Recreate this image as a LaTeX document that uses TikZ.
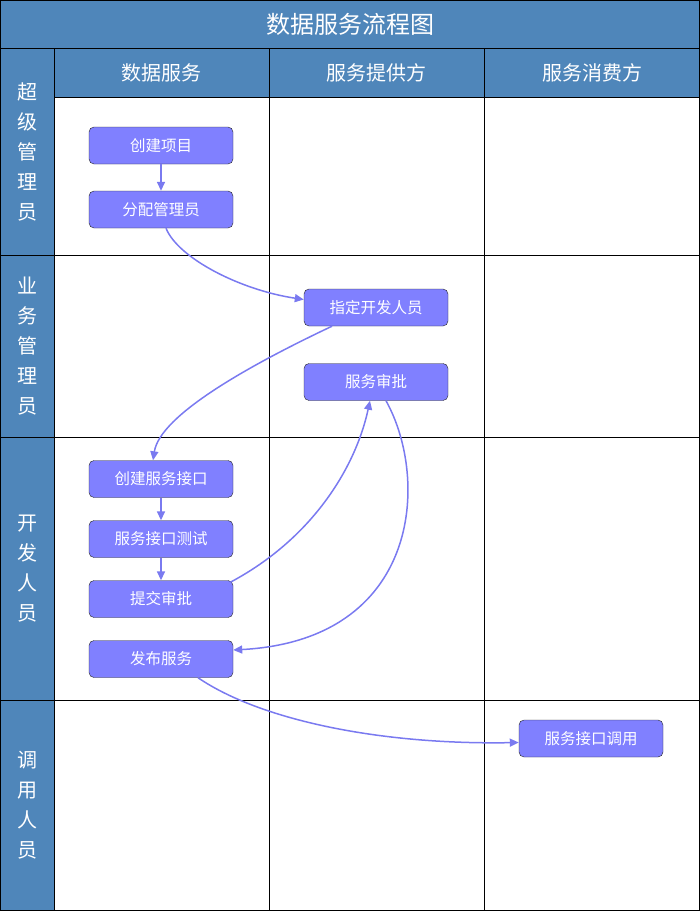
\documentclass[tikz,border=0pt]{standalone}
\usepackage{fontspec}
\setmainfont{Noto Sans CJK SC}
\usepackage{xcolor,tikz}
\usetikzlibrary{arrows.meta,positioning}
\definecolor{laneblue}{RGB}{79,134,186}
\definecolor{stepfill}{RGB}{128,128,255}
\definecolor{flowline}{RGB}{122,122,240}
\tikzset{
  stepbox/.style={draw=black!85,fill=stepfill,rounded corners=5pt,minimum width=144pt,minimum height=37pt,
    inner sep=0pt,text=white,font=\fontsize{15.5}{18}\selectfont},
  flow/.style={draw=flowline,line width=1.5pt,-{Triangle[length=9pt,width=8pt]}},
  lanelabel/.style={text=white,align=center,font=\fontsize{20}{30}\selectfont},
  headlabel/.style={text=white,font=\fontsize{20}{24}\selectfont}
}
\begin{document}
\begin{tikzpicture}[x=1pt,y=-1pt]
\useasboundingbox (0,0) rectangle (700,911);
\fill[laneblue] (0,0) rectangle (700,97); \fill[laneblue] (0,0) rectangle (54,911);
\draw[line width=0.8pt] (0.5,0.5) rectangle (699.5,910.5);
\draw[line width=0.8pt] (0,48)--(700,48); \draw[line width=0.8pt] (54,97)--(700,97);
\foreach \y in {255,437,700}{\draw[line width=0.8pt] (0,\y)--(700,\y);}
\foreach \x in {54,269,484}{\draw[line width=0.8pt] (\x,48)--(\x,911);}
\node[text=white,font=\fontsize{24}{28}\selectfont] (title) at (350,24){数据服务流程图};
\node[headlabel] (col1) at (161.5,73){数据服务};
\node[headlabel] (col2) at (376.5,73){服务提供方};
\node[headlabel] (col3) at (592,73){服务消费方};
\node[lanelabel] (lane1) at (27,151.5){超\\级\\管\\理\\员};
\node[lanelabel] (lane2) at (27,346){业\\务\\管\\理\\员};
\node[lanelabel] (lane3) at (27,568.5){开\\发\\人\\员};
\node[lanelabel] (lane4) at (27,805.5){调\\用\\人\\员};
% steps
\node[stepbox] (create) at (161,145.5){创建项目};
\node[stepbox] (assign) at (161,209.5){分配管理员};
\node[stepbox] (dev) at (376,307.5){指定开发人员};
\node[stepbox] (review) at (376,382){服务审批};
\node[stepbox] (api) at (161,479){创建服务接口};
\node[stepbox] (test) at (161,539){服务接口测试};
\node[stepbox] (submit) at (161,599){提交审批};
\node[stepbox] (publish) at (161,659){发布服务};
\node[stepbox] (call) at (591,738.5){服务接口调用};
% flows
\draw[flow] (create)--(assign);
\draw[flow] ([xshift=5pt]assign.south) .. controls (178,258) and (240,290) .. ([yshift=8pt]dev.west);
\draw[flow] ([xshift=-44pt]dev.south) .. controls (250,365) and (160,415) .. ([xshift=-8pt]api.north);
\draw[flow] (api)--(test); \draw[flow] (test)--(submit);
\draw[flow] ([xshift=-3pt,yshift=-2pt]submit.north east) .. controls (310,540) and (355,470) .. ([xshift=-6pt]review.south);
\draw[flow] ([xshift=10pt]review.south) .. controls (430,480) and (420,640) .. ([yshift=9pt]publish.east);
\draw[flow] ([xshift=37pt]publish.south) .. controls (260,720) and (380,745) .. ([yshift=-4pt]call.west);
\end{tikzpicture}
\end{document}
